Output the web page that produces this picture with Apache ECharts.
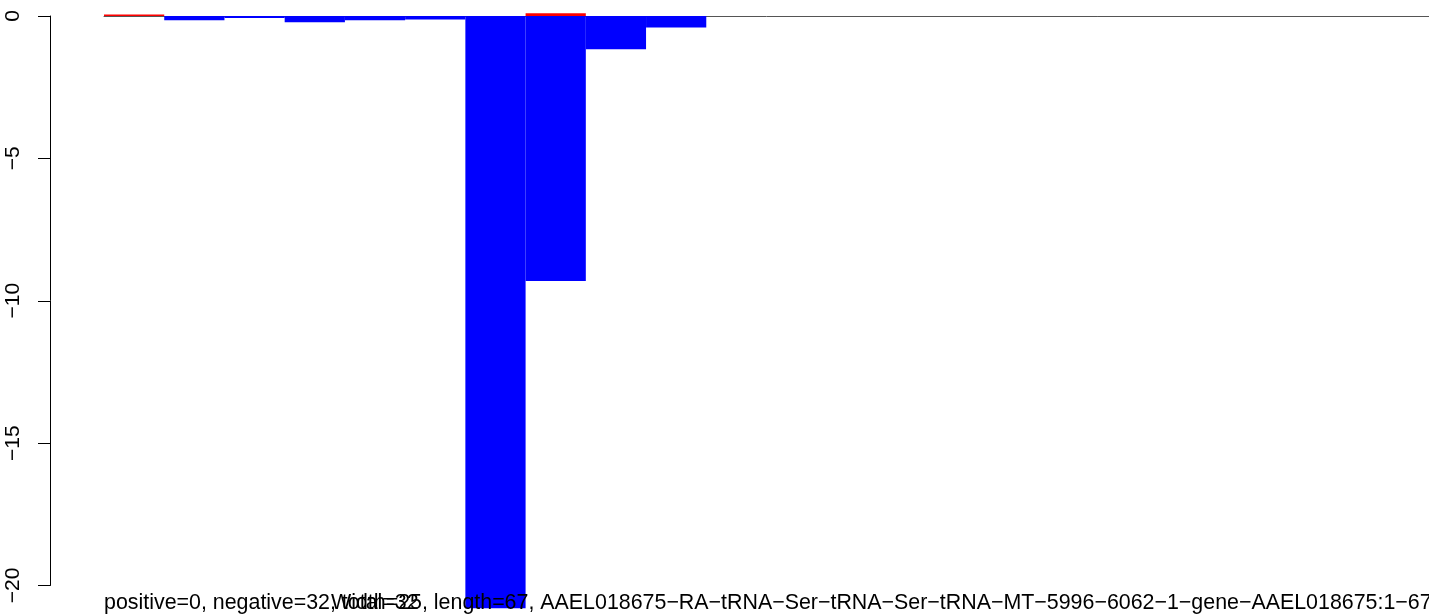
<!DOCTYPE html>
<html>
<head>
<meta charset="utf-8">
<script src="https://cdn.jsdelivr.net/npm/echarts@6/dist/echarts.min.js"></script>
<style>
html,body{margin:0;padding:0;background:#fff;}
#c{width:1429px;height:615px;}
</style>
</head>
<body>
<div id="c"></div>
<script>
// positions (bins) along the sequence
var categories = ['1','2','3','4','5','6','7','8','9','10','11','12','13','14','15','16','17','18','19','20','21','22'];
// positive-strand values (red)
var positiveValues = [0.05, 0, 0, 0, 0, 0, 0, 0.1, 0, 0, 0, 0, 0, 0, 0, 0, 0, 0, 0, 0, 0, 0];
// negative-strand values (blue)
var negativeValues = [0, -0.15, -0.07, -0.22, -0.15, -0.12, -20.8, -9.31, -1.17, -0.40, 0, 0, 0, 0, 0, 0, 0, 0, 0, 0, 0, 0];
var yTicks = [0, -5, -10, -15, -20];
var subtitleLeft = 'positive=0, negative=32, total=32';
var subtitleMain = 'Width=25, length=67, AAEL018675\u2212RA\u2212tRNA\u2212Ser\u2212tRNA\u2212Ser\u2212tRNA\u2212MT\u22125996\u22126062\u22121\u2212gene\u2212AAEL018675:1\u221267';

var chart = echarts.init(document.getElementById('c'), null, {renderer: 'canvas'});
var FONT = 'Liberation Sans, Arial, Helvetica, sans-serif';
chart.setOption({
  animation: false,
  backgroundColor: '#ffffff',
  grid: {left: 104, top: 16, width: 1329, bottom: 29.5, containLabel: false},
  xAxis: {
    type: 'category',
    data: categories,
    axisLine: {show: true, onZero: true, lineStyle: {color: '#555555', width: 1}},
    axisTick: {show: false},
    axisLabel: {show: false},
    splitLine: {show: false}
  },
  yAxis: {
    type: 'value',
    min: yTicks[yTicks.length - 1],
    max: yTicks[0],
    interval: 5,
    offset: 54,
    axisLine: {show: true, lineStyle: {color: '#000', width: 1}},
    axisTick: {show: true, length: 12, lineStyle: {color: '#000', width: 1}},
    splitLine: {show: false},
    axisLabel: {
      rotate: 90,
      margin: 26,
      color: '#000',
      fontSize: 21,
      fontFamily: FONT,
      formatter: function (v) { return String(v).replace('-', '\u2212'); }
    }
  },
  series: [
    {
      type: 'bar',
      name: 'positive',
      data: positiveValues,
      barWidth: '100%',
      barGap: '-100%',
      clip: false,
      itemStyle: {color: '#ff0000'}
    },
    {
      type: 'bar',
      name: 'negative',
      data: negativeValues,
      barWidth: '100%',
      barGap: '-100%',
      clip: false,
      itemStyle: {color: '#0000ff'}
    }
  ],
  graphic: [
    {type: 'text', z: 100, style: {text: subtitleLeft, x: 104, y: 603, font: '21.4px ' + FONT, fill: '#000', verticalAlign: 'middle', align: 'left'}},
    {type: 'text', z: 100, style: {text: subtitleMain, x: 331, y: 603, font: '21.4px ' + FONT, fill: '#000', verticalAlign: 'middle', align: 'left'}}
  ]
});
</script>
</body>
</html>
